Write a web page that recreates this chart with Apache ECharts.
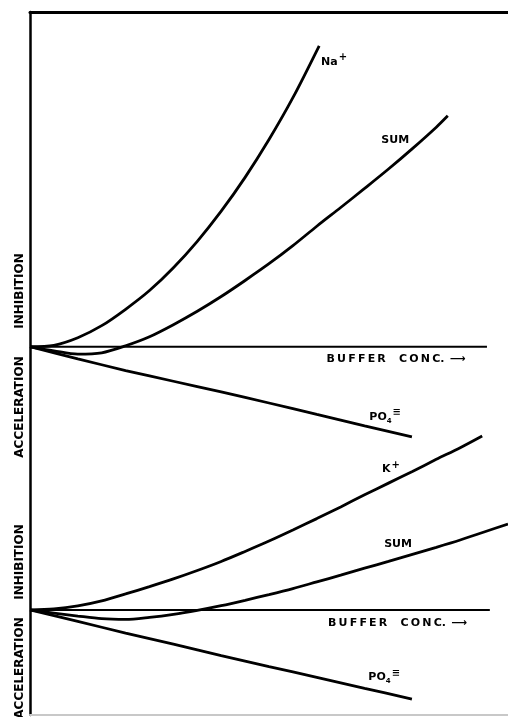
<!DOCTYPE html>
<html>
<head>
<meta charset="utf-8">
<script src="https://cdn.jsdelivr.net/npm/echarts@6/dist/echarts.min.js"></script>
<style>
html,body{margin:0;padding:0;background:#fff;}
#chart{width:508px;height:717px;}
</style>
</head>
<body>
<div id="chart"></div>
<script>
// ---- data (buffer concentration, effect; positive = inhibition, negative = acceleration) ----
var topNaX   = [0, 5, 10, 15, 20, 25, 30, 35, 40, 45, 50, 55, 60.5];
var topNaY   = [0, 0.045, 0.27, 0.63, 1.12, 1.68, 2.36, 3.15, 4.05, 5.06, 6.19, 7.44, 8.99];
var topSumX  = [0, 5, 10, 15, 20, 25, 30, 35, 40, 45, 50, 55, 60, 65, 70, 75, 80, 85, 87.4];
var topSumY  = [0, -0.12, -0.22, -0.18, 0.03, 0.30, 0.66, 1.06, 1.50, 1.98, 2.48, 3.02, 3.60, 4.16, 4.73, 5.31, 5.92, 6.56, 6.90];
var topPO4X  = [0, 10, 20, 30, 40, 50, 60, 70, 79.9];
var topPO4Y  = [0, -0.36, -0.71, -1.03, -1.35, -1.68, -2.02, -2.36, -2.69];
var topBaseX = [0, 95.6];
var topBaseY = [0, 0];

var botKX    = [0, 5, 10, 15, 20, 25, 30, 35, 40, 45, 50, 55, 60, 65, 70, 75, 80, 85, 90, 94.6];
var botKY    = [0, 0.03, 0.12, 0.27, 0.48, 0.70, 0.93, 1.18, 1.45, 1.75, 2.06, 2.39, 2.73, 3.08, 3.44, 3.79, 4.14, 4.50, 4.85, 5.20];
var botSumX  = [0, 5, 10, 15, 20, 25, 30, 35, 40, 45, 50, 55, 60, 65, 70, 75, 80, 85, 90, 95, 100];
var botSumY  = [0, -0.09, -0.18, -0.26, -0.28, -0.22, -0.13, -0.01, 0.13, 0.29, 0.46, 0.64, 0.84, 1.04, 1.25, 1.45, 1.66, 1.87, 2.09, 2.33, 2.57];
var botPO4X  = [0, 10, 20, 30, 40, 50, 60, 70, 79.9];
var botPO4Y  = [0, -0.34, -0.69, -1.02, -1.36, -1.69, -2.01, -2.34, -2.66];
var botBaseX = [0, 96.2];
var botBaseY = [0, 0];

var xLabel = 'B\u2009U\u2009F\u2009F\u2009E\u2009R\u2002\u2002\u2009C\u2009O\u2009N\u2009C.\u2002\u27F6';
var yUpLabel = 'INHIBITION';
var yDownLabel = 'ACCELERATION';

function pairs(xs, ys){ return xs.map(function(x,i){ return [x, ys[i]]; }); }

var FONT = 'DejaVu Sans';
var rich = {
  b:  {fontFamily: FONT, fontWeight: 'bold', fontSize: 11, color: '#000', lineHeight: 20, verticalAlign: 'middle'},
  sub:{fontFamily: FONT, fontWeight: 'bold', fontSize: 7, color: '#000', lineHeight: 20, verticalAlign: 'bottom', padding:[0,0,2,0]},
  sup:{fontFamily: FONT, fontWeight: 'bold', fontSize: 10, color: '#000', lineHeight: 20, verticalAlign: 'top', padding:[1,0,0,1]}
};
var PO4 = '{b|PO}{sub|4}{sup|\u2261}';

function lineSeries(xs, ys, gi, w, sm){
  return {
    type: 'line', xAxisIndex: gi === 0 ? 0 : 2, yAxisIndex: gi,
    data: pairs(xs, ys), showSymbol: false, smooth: sm,
    lineStyle: {color: '#000', width: w}, silent: true, clip: true
  };
}
function labelSeries(gi, items){
  return {
    type: 'scatter', xAxisIndex: gi === 0 ? 0 : 2, yAxisIndex: gi,
    symbolSize: 0, silent: true, itemStyle: {opacity: 1},
    data: items.map(function(it){
      return {value: it.v, label: {show: true, position: 'inside', color: '#000', opacity: 1,
        textBorderWidth: 0, formatter: it.t, rich: rich}};
    })
  };
}

var chart = echarts.init(document.getElementById('chart'), null, {renderer: 'canvas'});
var hidden = {show: false};
var yText = function(x, y, t){
  return {type: 'text', x: x, y: y, rotation: Math.PI/2,
    style: {text: t, font: 'bold 12px "DejaVu Sans"', fill: '#000', align: 'center', verticalAlign: 'middle'}};
};
chart.setOption({
  animation: false,
  backgroundColor: '#fff',
  grid: [
    {left: 30, right: 0, top: 12, bottom: 2},
    {left: 30, right: 0, top: 342.2, bottom: 6.57}
  ],
  xAxis: [
    {type: 'value', gridIndex: 0, min: 0, max: 100, position: 'top',
     axisLine: {show: true, onZero: false, lineStyle: {color: '#000', width: 3}},
     axisTick: hidden, axisLabel: hidden, splitLine: hidden},
    {type: 'value', gridIndex: 0, min: 0, max: 100, position: 'bottom',
     axisLine: {show: true, onZero: false, lineStyle: {color: '#c8c8c8', width: 2}},
     axisTick: hidden, axisLabel: hidden, splitLine: hidden},
    {type: 'value', gridIndex: 1, min: 0, max: 100, show: false}
  ],
  yAxis: [
    {type: 'value', gridIndex: 0, min: -11, max: 10,
     axisLine: {show: true, onZero: false, lineStyle: {color: '#000', width: 2.5}},
     axisTick: hidden, axisLabel: hidden, splitLine: hidden},
    {type: 'value', gridIndex: 1, min: -3, max: 8, show: false}
  ],
  series: [
    lineSeries(topBaseX, topBaseY, 0, 2.2, false),
    lineSeries(topNaX, topNaY, 0, 2.8, 0.3),
    lineSeries(topSumX, topSumY, 0, 2.8, 0.3),
    lineSeries(topPO4X, topPO4Y, 0, 2.8, 0.3),
    lineSeries(botBaseX, botBaseY, 1, 2.2, false),
    lineSeries(botKX, botKY, 1, 2.8, 0.3),
    lineSeries(botSumX, botSumY, 1, 2.8, 0.3),
    lineSeries(botPO4X, botPO4Y, 1, 2.8, 0.3),
    labelSeries(0, [
      {v: [63.6, 8.51], t: '{b|Na}{sup|+}'},
      {v: [76.4, 6.18], t: '{b|SUM}'},
      {v: [76.6, -0.36], t: '{b|' + xLabel + '}'},
      {v: [74.3, -2.09], t: PO4}
    ]),
    labelSeries(1, [
      {v: [75.5, 4.21], t: '{b|K}{sup|+}'},
      {v: [77.0, 1.97], t: '{b|SUM}'},
      {v: [76.9, -0.39], t: '{b|' + xLabel + '}'},
      {v: [74.1, -2.0], t: PO4}
    ])
  ],
  graphic: [
    yText(20, 291, yUpLabel),
    yText(20, 407, yDownLabel),
    yText(20, 562, yUpLabel),
    yText(20, 668, yDownLabel)
  ]
});
</script>
</body>
</html>
